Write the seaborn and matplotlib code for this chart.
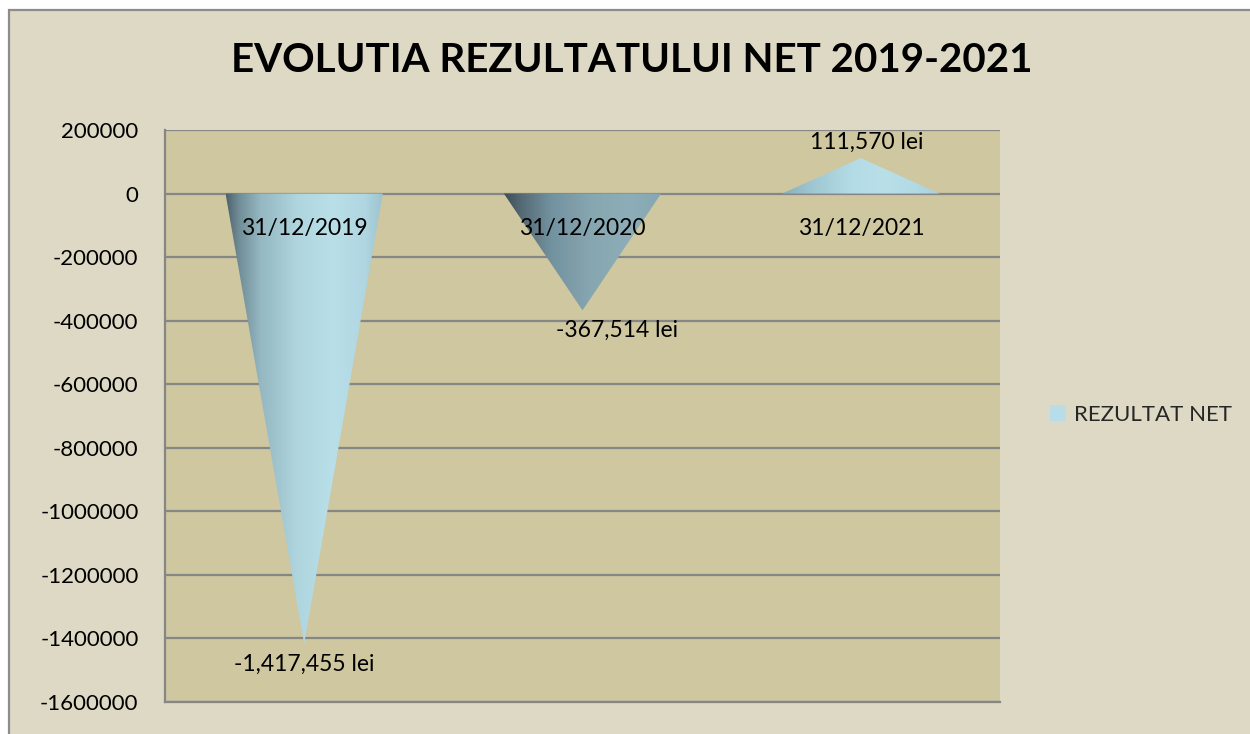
import numpy as np
import pandas as pd
import matplotlib
matplotlib.use("Agg")
import matplotlib.pyplot as plt
import seaborn as sns
from matplotlib.patches import Polygon, Rectangle, Patch
from matplotlib.colors import LinearSegmentedColormap
from matplotlib.ticker import FuncFormatter, MultipleLocator

# ---- data ----
categories = ["31/12/2019", "31/12/2020", "31/12/2021"]
values = [-1417455, -367514, 111570]
series_name = "REZULTAT NET"
title = "EVOLUTIA REZULTATULUI NET 2019-2021"
y_min, y_max, y_step = -1600000, 200000, 200000

sns.set_theme(style="white")
plt.rcParams["font.family"] = ["Lato", "DejaVu Sans"]
plt.rcParams["axes.unicode_minus"] = False

W, H, DPI = 1250, 734, 100
fig = plt.figure(figsize=(W / DPI, H / DPI), dpi=DPI, facecolor="white")

# outer chart frame
fig.patches.append(Rectangle((9 / W, -0.1), 1.2, 1.1 - 10 / H, transform=fig.transFigure,
                             facecolor="#DDD9C4", edgecolor="#8C8C8C", linewidth=1.6, zorder=-5))

ax = fig.add_axes([165 / W, 1 - 702 / H, (1000 - 165) / W, (702 - 130) / H])
ax.set_facecolor("#CFC7A0")

df = pd.DataFrame({"cat": categories, "val": values})
sns.barplot(data=df, x="cat", y="val", ax=ax, width=0.565, color="#B7DDE8", saturation=1)

ax.set_ylim(y_min, y_max)
ax.set_xlim(-0.5, len(categories) - 0.5)

gradients = [
    [(0.0, "#4E626C"), (0.08, "#708D97"), (0.22, "#95B8C2"), (0.45, "#AFD5DF"),
     (0.68, "#B9E0E9"), (0.88, "#B0D7E1"), (1.0, "#9CC3CD")],
    [(0.0, "#3F4E56"), (0.12, "#566D77"), (0.3, "#7392A0"), (0.55, "#86A6B0"),
     (0.8, "#8DAEB8"), (1.0, "#86A7B1")],
    [(0.0, "#86AFBD"), (0.2, "#A0C8D3"), (0.45, "#B4DCE6"), (0.65, "#B9E0E9"),
     (0.85, "#B2DAE4"), (1.0, "#A9D1DC")],
]

for p, stops in zip(list(ax.patches), gradients):
    x0, w = p.get_x(), p.get_width()
    y0, h = p.get_y(), p.get_height()
    poly = Polygon([(x0, y0), (x0 + w, y0), (x0 + w / 2, y0 + h)], closed=True,
                   transform=ax.transData, facecolor="none", edgecolor="none")
    ax.add_patch(poly)
    cmap = LinearSegmentedColormap.from_list("c", stops)
    grad = np.linspace(0, 1, 256).reshape(1, -1)
    im = ax.imshow(grad, cmap=cmap, extent=[x0, x0 + w, min(y0, y0 + h), max(y0, y0 + h)],
                   aspect="auto", zorder=3, interpolation="bilinear")
    im.set_clip_path(poly)
    p.set_visible(False)

ax.set_ylim(y_min, y_max)
ax.set_xlim(-0.5, len(categories) - 0.5)

# grid / spines
ax.yaxis.set_major_locator(MultipleLocator(y_step))
ax.yaxis.set_major_formatter(FuncFormatter(lambda v, _: f"{int(round(v))}"))
ax.grid(axis="y", color="#868686", linewidth=1.6, zorder=1)
ax.set_axisbelow(True)
for s in ["top", "right"]:
    ax.spines[s].set_visible(False)
for s in ["left", "bottom"]:
    ax.spines[s].set_color("#868686")
    ax.spines[s].set_linewidth(1.6)
ax.tick_params(axis="y", length=0, pad=19, labelsize=16, labelcolor="black")
ax.set_xticks([])
ax.set_xlabel("")
ax.set_ylabel("")

# category labels next to the zero axis
for i, c in enumerate(categories):
    ax.annotate(c, xy=(i, 0), xytext=(0, -35), textcoords="offset pixels",
                ha="center", va="center", fontsize=16.5, color="black", zorder=5)

# data labels
label_dx = [0, 35, 6]
for i, v in enumerate(values):
    dy = -20 if v < 0 else 16
    ax.annotate(f"{v:,} lei", xy=(i, v), xytext=(label_dx[i], dy), textcoords="offset pixels",
                ha="center", va="center", fontsize=16.5, color="black", zorder=5)

fig.text(632 / W, 1 - 60 / H, title, ha="center", va="center", fontsize=29,
         fontweight="bold", color="black")

fig.legend(handles=[Patch(facecolor="#B7DDE8", edgecolor="none", label=series_name)],
           loc="center left", bbox_to_anchor=(1050 / W, 1 - 415 / H), frameon=False,
           fontsize=16, handlelength=0.7, handleheight=0.7, handletextpad=0.4,
           borderaxespad=0, borderpad=0)

fig.savefig("out.png", dpi=DPI, facecolor=fig.get_facecolor())
